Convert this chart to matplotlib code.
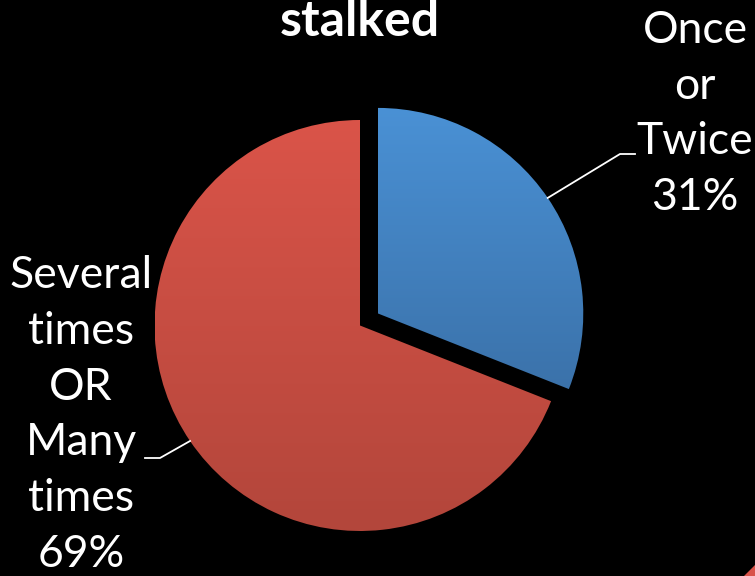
import numpy as np
import matplotlib
matplotlib.use("Agg")
import matplotlib.pyplot as plt
from matplotlib.colors import LinearSegmentedColormap
from matplotlib.patches import Polygon

# ---- data ----
categories = ["Once\nor\nTwice", "Several\ntimes\nOR\nMany\ntimes"]
shares = [31, 69]
title_text = "stalked"

# ---- style ----
W, H = 755, 576
top_colors = ["#4a91d5", "#da5449"]
bot_colors = ["#3b72aa", "#b3463b"]
font = ["Lato", "DejaVu Sans"]

fig = plt.figure(figsize=(W / 100, H / 100), dpi=100, facecolor="black")
ax = fig.add_axes([0, 0, 1, 1])
ax.set_facecolor("black")

def Y(y):
    return H - y

cx, cy, R = 360, Y(325.5), 205.5
wedges, _ = ax.pie(shares, startangle=90, counterclock=False,
                   center=(cx, cy), radius=R, explode=[21.5, 0],
                   colors=top_colors, frame=True,
                   wedgeprops=dict(linewidth=0))

# vertical gradient fill, clipped to each wedge
for w, c0, c1 in zip(wedges, top_colors, bot_colors):
    bb = w.get_path().get_extents(w.get_patch_transform())
    cmap = LinearSegmentedColormap.from_list("g", [c1, c0])
    grad = np.linspace(0, 1, 256).reshape(-1, 1)
    im = ax.imshow(grad, cmap=cmap, origin="lower", aspect="auto",
                   extent=[bb.x0, bb.x1, bb.y0, bb.y1], zorder=2)
    im.set_clip_path(w)
    w.set_facecolor("none")

ax.set_xlim(0, W)
ax.set_ylim(0, H)
ax.set_aspect("equal")
ax.axis("off")

# leader lines from wedge mid-angle
def mid_point(w):
    th = np.deg2rad((w.theta1 + w.theta2) / 2)
    x0, y0 = w.center
    return x0 + w.r * np.cos(th), y0 + w.r * np.sin(th)

bx, by = mid_point(wedges[0])
ax.plot([bx, 620, 635], [by, Y(154), Y(154)], color="white", lw=1.3, zorder=3)
rx, ry = mid_point(wedges[1])
ax.plot([rx, 160, 145], [ry, Y(458), Y(458)], color="white", lw=1.3, zorder=3)

fs = 32
ls = 1.45
ax.text(695, Y(114), f"{categories[0]}\n{shares[0]}%", color="white",
        fontsize=fs, family=font, ha="center", va="center",
        linespacing=ls, zorder=4)
ax.text(81, Y(415), f"{categories[1]}\n{shares[1]}%", color="white",
        fontsize=fs, family=font, ha="center", va="center",
        linespacing=ls, zorder=4)

ax.text(360, Y(36), title_text, color="white", fontsize=36,
        fontweight="bold", family=font, ha="center", va="baseline", zorder=4)

# small red corner accent
fig.patches.append(Polygon([[744 / W, 0], [1, 11 / H], [1, 0]],
                           closed=True, transform=fig.transFigure,
                           facecolor="#d9534a", edgecolor="none"))

fig.savefig("out.png", dpi=100, facecolor="black")
